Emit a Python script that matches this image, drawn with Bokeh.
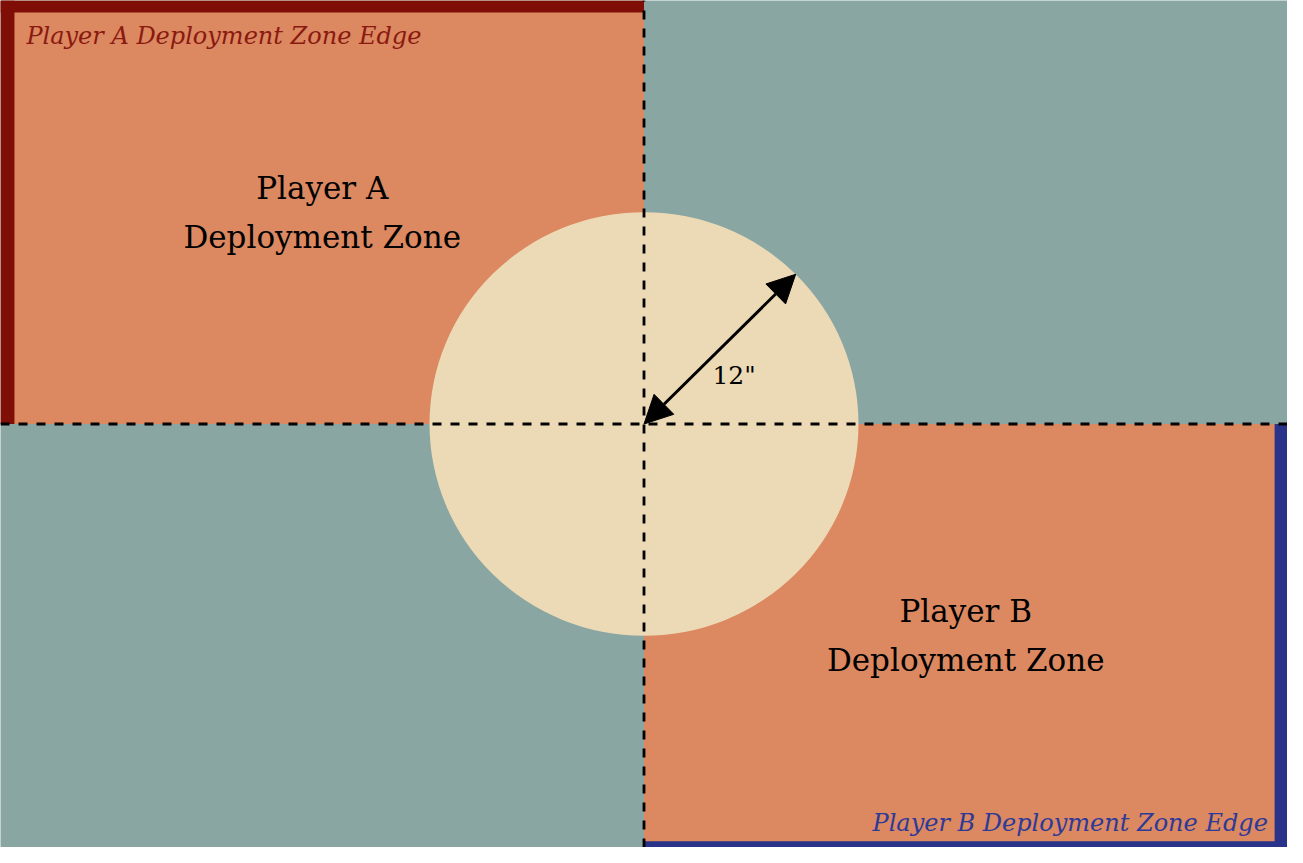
import math
from bokeh.plotting import figure
from bokeh.models import ColumnDataSource, Arrow, NormalHead
from bokeh.core.properties import value
from bokeh.embed import file_html
from bokeh.resources import INLINE

# ---- data (inches) ----
board_w = 72
board_h = 48
center_x = 36
center_y = 24
radius = 12
radius_label = '12"'
arrow_angle_deg = 45

zone_names = ["Player A\nDeployment Zone", "Player B\nDeployment Zone"]
zone_x0 = [0, 36]
zone_x1 = [36, 72]
zone_y0 = [24, 0]
zone_y1 = [48, 24]

edge_labels = ["Player A Deployment Zone Edge", "Player B Deployment Zone Edge"]

# ---- styles ----
BLUEGREY = "#89a6a2"
ORANGE = "#dc8860"
PARCH = "#ecdab6"
RED = "#7f0f06"
BLUE = "#29338a"
RED_TXT = "#8a1a10"
BLUE_TXT = "#2d3a98"
FONT = "DejaVu Serif"

p = figure(width=1287, height=847, x_range=(0, board_w), y_range=(0, board_h),
           output_backend="svg", toolbar_location=None, min_border=0)
p.axis.visible = False
p.grid.visible = False
p.outline_line_color = None
p.background_fill_color = BLUEGREY

zsrc = ColumnDataSource(dict(x0=zone_x0, x1=zone_x1, y0=zone_y0, y1=zone_y1,
                             name=zone_names,
                             cx=[(a + b) / 2 for a, b in zip(zone_x0, zone_x1)],
                             cy=[(a + b) / 2 for a, b in zip(zone_y0, zone_y1)]))
p.quad(left="x0", right="x1", bottom="y0", top="y1", source=zsrc,
       fill_color=ORANGE, line_color=None)

# deployment zone edges
bw = 0.78
p.quad(left=[zone_x0[0]], right=[zone_x0[0] + bw], bottom=[zone_y0[0]], top=[zone_y1[0]],
       fill_color=RED, line_color=None)
p.quad(left=[zone_x0[0]], right=[zone_x1[0]], bottom=[zone_y1[0] - 0.68], top=[zone_y1[0]],
       fill_color=RED, line_color=None)
p.quad(left=[zone_x1[1] - 0.72], right=[zone_x1[1]], bottom=[zone_y0[1]], top=[zone_y1[1]],
       fill_color=BLUE, line_color=None)
p.quad(left=[zone_x0[1]], right=[zone_x1[1]], bottom=[zone_y0[1]], top=[zone_y0[1] + 0.35],
       fill_color=BLUE, line_color=None)

# no man's land circle
p.ellipse(x=[center_x], y=[center_y], width=[2 * radius], height=[2 * radius],
          fill_color=PARCH, line_color=None)

# dashed centre lines
p.line(x=[center_x, center_x], y=[0, board_h], line_color="black", line_width=2.8,
       line_dash="9 9")
p.line(x=[0, board_w], y=[center_y, center_y], line_color="black", line_width=2.8,
       line_dash="9 9")

# radius arrow
ang = math.radians(arrow_angle_deg)
ex = center_x + radius * math.cos(ang)
ey = center_y + radius * math.sin(ang)
p.add_layout(Arrow(start=NormalHead(size=28, fill_color="black", line_color="black"),
                   end=NormalHead(size=28, fill_color="black", line_color="black"),
                   x_start=center_x, y_start=center_y, x_end=ex, y_end=ey,
                   line_color="black", line_width=3))
p.text(x=[center_x + radius * 0.42], y=[center_y + radius * 0.23], text=[radius_label],
       text_font=value(FONT), text_font_size="25px", text_color="black",
       text_align="center", text_baseline="middle")

# zone labels
p.text(x="cx", y="cy", text="name", source=zsrc, text_font=value(FONT),
       text_font_size="31px", text_color="black", text_align="center",
       text_baseline="middle", text_line_height=1.35)

# edge labels
p.text(x=[1.45], y=[board_h - 2.0], text=[edge_labels[0]], text_font=value(FONT),
       text_font_style="italic", text_font_size="24px", text_color=RED_TXT,
       text_align="left", text_baseline="middle")
p.text(x=[board_w - 1.1], y=[1.4], text=[edge_labels[1]], text_font=value(FONT),
       text_font_style="italic", text_font_size="24px", text_color=BLUE_TXT,
       text_align="right", text_baseline="middle")

open("out.html", "w").write(file_html(p, INLINE))
